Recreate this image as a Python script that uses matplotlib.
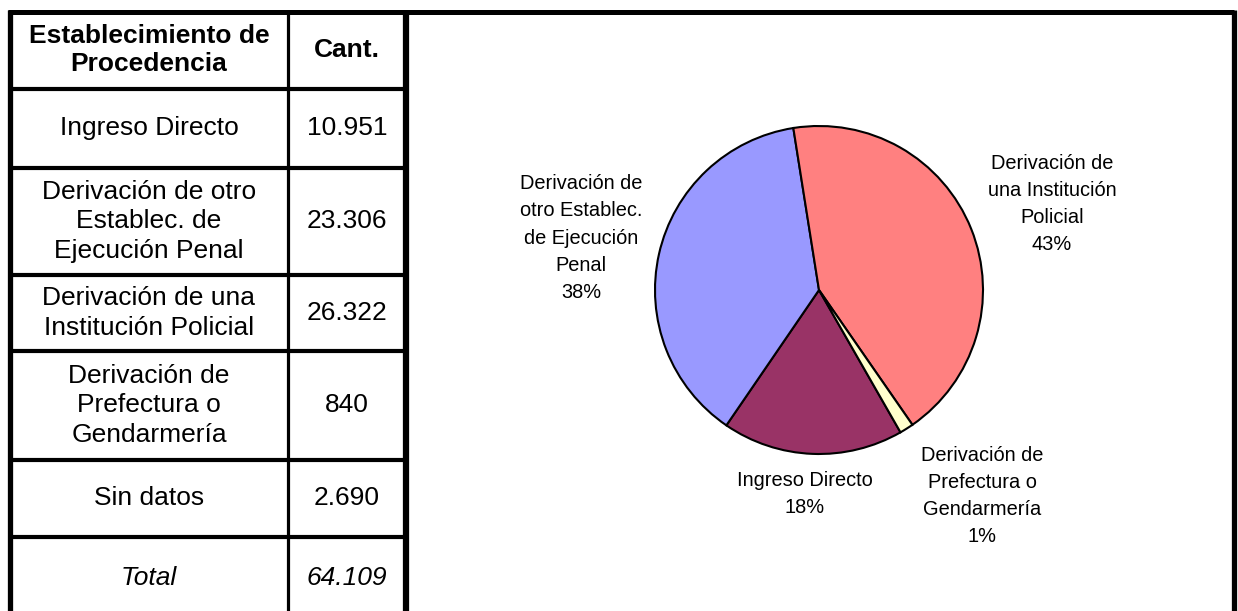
import matplotlib
matplotlib.use("Agg")
import matplotlib.pyplot as plt

plt.rcParams['font.family'] = ['Liberation Sans', 'DejaVu Sans']

# ---- data ----
header_cat = "Establecimiento de\nProcedencia"
header_val = "Cant."
categories = ["Ingreso Directo",
              "Derivación de otro\nEstablec. de\nEjecución Penal",
              "Derivación de una\nInstitución Policial",
              "Derivación de\nPrefectura o\nGendarmería",
              "Sin datos"]
counts = [10951, 23306, 26322, 840, 2690]
total_label = "Total"
total_value = 64109

pie_labels = ["Ingreso Directo",
              "Derivación de\notro Establec.\nde Ejecución\nPenal",
              "Derivación de\nuna Institución\nPolicial",
              "Derivación de\nPrefectura o\nGendarmería"]
pie_values = counts[:4]
pie_colors = ["#993366", "#9999FF", "#FF8080", "#FFFFCC"]

W, H = 1238, 611
fig = plt.figure(figsize=(W / 100, H / 100), dpi=100)
ax = fig.add_axes([0, 0, 1, 1])


def Y(y):
    return H - y


def fmt(n):
    return f"{n:,}".replace(",", ".")


# ---- pie ----
cx, cy, r = 819, 290, 164
ax.pie(pie_values, colors=pie_colors, startangle=-60.2, counterclock=False,
       center=(cx, Y(cy)), radius=r, frame=True,
       wedgeprops=dict(edgecolor="black", linewidth=1.5))

tot = sum(pie_values)
label_pos = [(805, 494), (581, 238), (1052, 204), (982, 496)]
for lab, v, (lx, ly) in zip(pie_labels, pie_values, label_pos):
    pct = round(v / tot * 100)
    ax.text(lx, Y(ly), f"{lab}\n{pct}%", ha="center", va="center",
            fontsize=14.4, linespacing=1.55, color="black")

# ---- table ----
row_edges = [11.5, 88.5, 168, 275, 351, 460, 536.5, 620]
col_edges = [10, 288, 406]
col_centers = [149, 347]

# horizontal lines
for i, y in enumerate(row_edges[:-1]):
    lw = 3.6 if i == 0 else 3.0
    ax.plot([col_edges[0] - 2, col_edges[2]], [Y(y), Y(y)], color="black",
            lw=lw, solid_capstyle="butt")
# vertical lines
ax.plot([col_edges[0], col_edges[0]], [Y(row_edges[0]) + 1.5, Y(620)], color="black", lw=3.8,
        solid_capstyle="butt")
ax.plot([col_edges[1], col_edges[1]], [Y(row_edges[0]), Y(620)], color="black", lw=2.3,
        solid_capstyle="butt")
ax.plot([col_edges[2], col_edges[2]], [Y(row_edges[0]) + 1.5, Y(620)], color="black", lw=4.5,
        solid_capstyle="butt")

# chart panel frame
ax.plot([col_edges[2], 1233.5], [Y(row_edges[0]), Y(row_edges[0])], color="black", lw=3.6,
        solid_capstyle="butt")
ax.plot([1233.5, 1233.5], [Y(row_edges[0]) + 1.5, Y(620)], color="black", lw=3.8,
        solid_capstyle="butt")

fs = 19
# header
hc = (row_edges[0] + row_edges[1]) / 2
ax.text(col_centers[0], Y(hc), header_cat, ha="center", va="center",
        fontsize=fs, fontweight="bold", linespacing=1.22)
ax.text(col_centers[1], Y(hc), header_val, ha="center", va="center",
        fontsize=fs, fontweight="bold")

for i, (cat, n) in enumerate(zip(categories, counts)):
    yc = (row_edges[i + 1] + row_edges[i + 2]) / 2
    ax.text(col_centers[0], Y(yc), cat, ha="center", va="center",
            fontsize=fs, linespacing=1.31)
    ax.text(col_centers[1], Y(yc), fmt(n), ha="center", va="center", fontsize=fs)

ty = 578
ax.text(col_centers[0], Y(ty), total_label, ha="center", va="center",
        fontsize=fs, fontstyle="italic")
ax.text(col_centers[1], Y(ty), fmt(total_value), ha="center", va="center",
        fontsize=fs, fontstyle="italic")

ax.set_xlim(0, W)
ax.set_ylim(0, H)
ax.set_aspect("auto")
ax.axis("off")

fig.savefig("out.png", dpi=100, facecolor="white")
